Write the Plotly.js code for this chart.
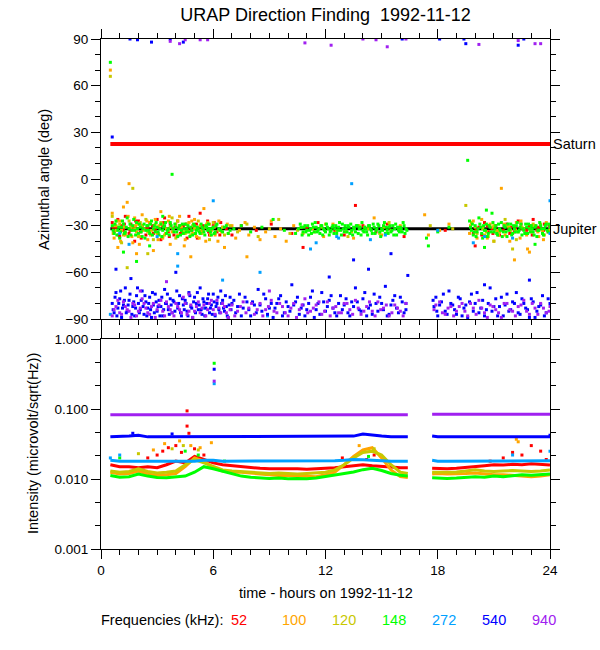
<!DOCTYPE html>
<html>
<head>
<meta charset="utf-8">
<script src="https://cdn.plot.ly/plotly-3.0.1.min.js"></script>
<style>html,body{margin:0;padding:0;background:#fff;}#chart{width:600px;height:650px;}</style>
</head>
<body>
<div id="chart"></div>
<script>
// ---------------- DATA ----------------
const chartTitle = 'URAP Direction Finding\u00a0 1992-11-12';
const xTickVals = [0, 6, 12, 18, 24];
const xTickText = ['0', '6', '12', '18', '24'];
const angleTickVals = [-90, -60, -30, 0, 30, 60, 90];
const intTickVals = [0.001, 0.01, 0.1, 1];
const intTickText = ['0.001', '0.010', '0.100', '1.000'];
const intMinorVals = [0.00215, 0.00464, 0.0215, 0.0464, 0.215, 0.464];
const freqLabels = ['52', '100', '120', '148', '272', '540', '940'];

// planets: [time, angle]
const saturn = [[0.5, 22.5], [24, 22.5]];
const jupiter = [[0.5, -32], [24, -32]];

// azimuth points [hour, deg]
const az52 = [[0.6,-28],[0.7,-34],[0.8,-31],[0.9,-26],[1.0,-37],[1.1,-30],[1.2,-33],[1.3,-24],[1.5,-35],[1.6,-29],[1.7,-32],[1.8,-40],[2.0,-27],[2.1,-34],[2.2,-30],[2.4,-36],[2.5,-31],[2.6,-28],[2.8,-35],[2.9,-33],[3.0,-26],[3.2,-39],[3.3,-30],[3.4,-25],[3.6,-34],[3.7,-29],[3.9,-36],[4.0,-31],[4.1,-27],[4.3,-33],[4.4,-30],[4.6,-38],[4.7,-24],[4.8,-32],[5.0,-35],[5.1,-29],[5.3,-22],[5.4,-33],[5.5,-31],[5.7,-27],[5.8,-36],[6.0,-30],[6.2,-34],[6.4,-28],[6.7,-32],[7.0,-36],[7.5,-30],[8.3,-33],[9.1,-29],[10.2,-35],[11.0,-31],[11.6,-28],[12.5,-33],[13.0,-36],[13.6,-17],[14.0,-30],[14.7,-34],[15.3,-29],[15.9,-32],[16.2,-37],[18.4,-33],[19.9,-35],[20.2,-31],[20.5,-28],[20.7,-34],[20.9,-32],[21.1,-30],[21.3,-36],[21.5,-33],[21.7,-29],[21.9,-31],[22.1,-34],[22.3,-27],[22.5,-32],[22.7,-35],[22.9,-30],[23.1,-26],[23.3,-33],[23.5,-31],[23.7,-29],[23.9,-34],[20.0,-43],[10.8,-44]];
const az52b = [[0.65,-31],[0.95,-36],[1.25,-29],[1.55,-33],[1.85,-27],[2.15,-38],[2.45,-32],[2.75,-30],[3.05,-35],[3.35,-28],[3.65,-37],[3.95,-31],[4.25,-35],[4.55,-29],[4.85,-33],[5.15,-38],[5.45,-30],[5.75,-34],[6.05,-28],[6.35,-36],[20.05,-33],[20.35,-36],[20.65,-30],[20.95,-35],[21.25,-33],[21.55,-30],[21.85,-35],[22.15,-32],[22.45,-29],[22.75,-33],[23.05,-36],[23.35,-31],[23.65,-33],[23.95,-30]];
const az100 = [[0.5,70],[0.6,-22],[0.7,-38],[0.8,-30],[0.9,-44],[1.0,-27],[1.1,-33],[1.2,-18],[1.3,-36],[1.4,-15],[1.5,-3],[1.6,-31],[1.7,-41],[1.8,-25],[1.9,-34],[2.0,-29],[2.1,-37],[2.2,-23],[2.3,-32],[2.5,-39],[2.6,-28],[2.7,-33],[2.8,-46],[2.9,-26],[3.0,-35],[3.1,-30],[3.2,-21],[3.3,-38],[3.5,-32],[3.6,-27],[3.7,-42],[3.8,-34],[4.0,-29],[4.1,-36],[4.2,-24],[4.3,-31],[4.5,-39],[4.6,-33],[4.7,-28],[4.9,-35],[5.0,-26],[5.1,-37],[5.3,-30],[5.4,-34],[5.5,-19],[5.6,-40],[5.8,-29],[5.9,-33],[6.1,-36],[6.3,-27],[6.5,-31],[6.6,-44],[6.8,-35],[7.0,-30],[7.2,-38],[7.4,-33],[7.7,-28],[7.9,-36],[8.2,-31],[8.5,-39],[8.8,-34],[9.1,-27],[9.3,-37],[9.6,-32],[9.9,-40],[10.3,-30],[10.8,-35],[11.3,-32],[11.9,-37],[12.4,-29],[13.1,-34],[13.5,-38],[14.1,-31],[14.6,-25],[15.0,-36],[15.5,-33],[16.0,-30],[17.3,-23],[17.5,-36],[18.1,-33],[18.6,-29],[19.7,-35],[19.9,-27],[20.1,-38],[20.4,-31],[20.6,-34],[20.8,-29],[21.0,-40],[21.2,-33],[21.4,-6],[21.6,-36],[21.8,-31],[22.0,-35],[22.2,-28],[22.4,-38],[22.6,-32],[22.8,-45],[23.0,-34],[23.2,-30],[23.4,-37],[23.6,-33],[23.8,-28],[22.1,-52],[22.9,-47],[7.8,-50],[4.8,-50],[1.9,-48]];
const az100b = [[0.65,-35],[0.85,-27],[1.05,-40],[1.25,-31],[1.45,-24],[1.65,-37],[1.85,-30],[2.05,-42],[2.25,-33],[2.45,-27],[2.65,-36],[2.85,-31],[3.05,-39],[3.25,-29],[3.45,-35],[3.65,-24],[3.85,-32],[4.05,-37],[4.25,-30],[4.45,-43],[4.65,-34],[4.85,-27],[5.05,-31],[5.25,-38],[5.45,-33],[5.65,-29],[5.85,-36],[6.05,-31],[6.25,-40],[6.45,-34],[6.75,-29],[19.75,-30],[20.05,-34],[20.35,-26],[20.65,-38],[20.95,-31],[21.25,-36],[21.55,-29],[21.85,-40],[22.15,-33],[22.45,-27],[22.75,-36],[23.05,-30],[23.35,-34],[23.65,-39],[23.95,-33]];
const az120 = [[0.5,66],[0.6,-24],[0.8,-33],[1.0,-29],[1.1,-41],[1.3,-35],[1.5,-27],[1.7,-6],[1.8,-32],[2.0,-37],[2.2,-30],[2.4,-26],[2.6,-34],[2.8,-39],[3.0,-31],[3.2,-28],[3.4,-36],[3.6,-33],[3.8,-25],[4.0,-38],[4.2,-30],[4.4,-34],[4.6,-29],[4.8,-36],[5.0,-32],[5.2,-27],[5.4,-35],[5.6,-31],[5.8,-39],[6.0,-28],[6.3,-33],[6.6,-36],[6.9,-30],[7.3,-34],[7.8,-29],[8.4,-37],[9.0,-32],[9.5,-26],[10.1,-35],[10.7,-31],[11.4,-34],[12.0,-29],[12.6,-33],[13.2,-37],[13.8,-30],[14.3,-32],[14.9,-35],[15.4,-28],[16.0,-33],[17.6,-30],[18.8,-32],[19.5,-17],[19.8,-28],[20.1,-35],[20.4,-32],[20.7,-37],[21.0,-30],[21.3,-34],[21.6,-26],[21.9,-33],[22.2,-39],[22.5,-31],[22.8,-35],[23.1,-29],[23.4,-33],[23.7,-36],[24.0,-31],[21.0,-40],[22.0,-45],[2.5,-48],[1.4,-57]];
const az120b = [[0.7,-30],[1.2,-36],[1.6,-31],[2.1,-28],[2.5,-34],[2.9,-29],[3.3,-37],[3.7,-31],[4.1,-27],[4.5,-35],[4.9,-30],[5.3,-33],[5.7,-28],[6.1,-35],[6.5,-31],[10.5,-33],[11.8,-31],[13.4,-34],[15.1,-31],[20.0,-31],[20.5,-36],[21.1,-33],[21.7,-30],[22.3,-34],[22.9,-32],[23.5,-29]];
const az148 = [[0.5,75],[0.6,-30],[0.7,-35],[0.8,-27],[0.9,-33],[1.0,-38],[1.1,-31],[1.2,-29],[1.3,-34],[1.4,-25],[1.5,-32],[1.6,-36],[1.7,-30],[1.8,-33],[1.9,-28],[2.0,-35],[2.1,-31],[2.2,-37],[2.3,-29],[2.4,-33],[2.5,-30],[2.6,-35],[2.7,-27],[2.8,-32],[2.9,-34],[3.0,-31],[3.1,-36],[3.2,-29],[3.3,-33],[3.4,-30],[3.5,-35],[3.6,-32],[3.7,-28],[3.8,3],[3.9,-34],[4.0,-31],[4.1,-37],[4.2,-30],[4.3,-33],[4.4,-35],[4.5,-29],[4.6,-32],[4.7,-34],[4.8,-31],[4.9,-36],[5.0,-30],[5.1,-33],[5.2,-32],[5.3,-35],[5.4,-31],[5.5,-34],[5.6,-30],[5.7,-33],[5.8,-32],[5.9,-36],[6.0,-31],[6.1,-34],[6.2,-29],[6.4,-33],[6.6,-31],[6.8,-35],[7.1,-32],[7.5,-30],[8.0,-34],[8.6,-31],[9.2,-26],[9.8,-33],[10.4,-35],[10.7,-31],[10.8,-34],[10.9,-30],[11.0,-33],[11.1,-36],[11.2,-32],[11.3,-29],[11.4,-34],[11.5,-31],[11.6,-33],[11.7,-35],[11.8,-30],[11.9,-32],[12.0,-34],[12.1,-31],[12.2,-36],[12.3,-33],[12.4,-30],[12.5,-32],[12.6,-35],[12.7,-31],[12.8,-33],[12.9,-29],[13.0,-34],[13.1,-32],[13.2,-30],[13.3,-35],[13.4,-33],[13.5,-31],[13.6,-34],[13.7,-30],[13.8,-32],[13.9,-36],[14.0,-33],[14.1,-31],[14.2,-34],[14.3,-30],[14.4,-32],[14.5,-35],[14.6,-31],[14.7,-33],[14.8,-29],[14.9,-34],[15.0,-32],[15.1,-30],[15.2,-35],[15.3,-33],[15.4,-31],[15.5,-34],[15.6,-30],[15.7,-32],[15.8,-36],[15.9,-33],[16.0,-31],[16.1,-34],[16.2,-30],[16.3,-32],[17.4,-38],[17.5,-43],[18.0,-34],[18.6,-31],[19.6,12],[19.7,-27],[19.8,-33],[19.9,-36],[20.0,-30],[20.1,-34],[20.2,-25],[20.3,-31],[20.4,-38],[20.5,-33],[20.6,-29],[20.7,-35],[20.8,-31],[20.9,-22],[21.0,-34],[21.1,-30],[21.2,-36],[21.3,-32],[21.4,-28],[21.5,-34],[21.6,-31],[21.7,-37],[21.8,-33],[21.9,-29],[22.0,-35],[22.1,-32],[22.2,-30],[22.3,-34],[22.4,-31],[22.5,-36],[22.6,-33],[22.7,-29],[22.8,-35],[22.9,-32],[23.0,-30],[23.1,-34],[23.2,-31],[23.3,-37],[23.4,-33],[23.5,-30],[23.6,-35],[23.7,-32],[23.8,-29],[23.9,-34],[24.0,-31],[20.5,-44],[20.6,-20],[23.2,-42],[1.2,-47],[1.9,-53],[2.6,-43],[3.3,-24]];
const az148b = [[10.55,-32],[10.65,-29],[10.75,-36],[10.85,-31],[10.95,-34],[11.05,-30],[11.15,-33],[11.25,-35],[11.35,-31],[11.45,-28],[11.55,-34],[11.65,-32],[11.75,-30],[11.85,-36],[11.95,-33],[12.05,-29],[12.15,-32],[12.25,-34],[12.35,-31],[12.45,-35],[12.55,-30],[12.65,-33],[12.75,-28],[12.85,-36],[12.95,-32],[13.05,-30],[13.15,-34],[13.25,-31],[13.35,-29],[13.45,-36],[13.55,-32],[13.65,-30],[13.75,-35],[13.85,-31],[13.95,-28],[14.05,-34],[14.15,-32],[14.25,-36],[14.35,-30],[14.45,-33],[14.55,-29],[14.65,-35],[14.75,-32],[14.85,-30],[14.95,-37],[15.05,-33],[15.15,-28],[15.25,-31],[15.35,-35],[15.45,-30],[15.55,-33],[15.65,-36],[15.75,-29],[15.85,-31],[15.95,-34],[16.05,-32],[16.15,-28],[16.25,-35],[16.35,-33],
[0.65,-33],[0.75,-29],[0.85,-36],[0.95,-31],[1.05,-34],[1.15,-27],[1.25,-35],[1.35,-31],[1.45,-37],[1.55,-29],[1.65,-33],[1.75,-26],[1.85,-36],[1.95,-32],[2.05,-29],[2.15,-34],[2.25,-32],[2.35,-38],[2.45,-30],[2.55,-33],[2.65,-29],[2.75,-36],[2.85,-30],[2.95,-28],[3.05,-34],[3.15,-32],[3.25,-37],[3.35,-31],[3.45,-28],[3.55,-33],[3.65,-36],[3.75,-30],[3.85,-32],[3.95,-29],[4.05,-34],[4.15,-32],[4.25,-36],[4.35,-29],[4.45,-32],[4.55,-34],[4.65,-30],[4.75,-37],[4.85,-33],[4.95,-29],[5.05,-35],[5.15,-31],[5.25,-34],[5.35,-29],[5.45,-32],[5.55,-36],[5.65,-31],[5.75,-29],[5.85,-34],[5.95,-32],[6.05,-35],[6.15,-30],[6.3,-32],[6.5,-34],[6.7,-30],[6.9,-33],
[19.75,-31],[19.85,-29],[19.95,-34],[20.05,-37],[20.15,-32],[20.25,-29],[20.35,-35],[20.45,-30],[20.55,-33],[20.65,-37],[20.75,-30],[20.85,-34],[20.95,-28],[21.05,-32],[21.15,-35],[21.25,-29],[21.35,-33],[21.45,-37],[21.55,-30],[21.65,-34],[21.75,-29],[21.85,-32],[21.95,-36],[22.05,-30],[22.15,-34],[22.25,-28],[22.35,-33],[22.45,-29],[22.55,-32],[22.65,-35],[22.75,-31],[22.85,-29],[22.95,-34],[23.05,-32],[23.15,-36],[23.25,-30],[23.35,-33],[23.45,-28],[23.55,-32],[23.65,-36],[23.75,-30],[23.85,-33],[23.95,-29]];
const az272 = [[0.5,-87],[1.0,-35],[1.5,-42],[3.0,-37],[4.1,-48],[4.1,-56],[6.0,-14],[6.5,-65],[8.5,-60],[11.2,-45],[11.5,-41],[12.6,-37],[12.7,-38],[13.4,-3],[14.4,-39],[15.2,-36],[18.0,-33],[19.9,-41],[20.5,-37],[22.0,-38],[24.0,-35],[24.0,-14],[8.9,-88],[5.5,-83]];
const az540 = [[0.6,27],[1.55,90],[1.95,89.5],[2.7,88],[3.7,90],[4.4,88],[16.1,90],[18.1,90],[19.4,90],[19.5,87],[22.3,86],[22.6,90],
[0.6,-80],[0.7,-86],[0.8,-73],[0.9,-83],[1.0,-77],[1.1,-89],[1.2,-81],[1.3,-70],[1.4,-85],[1.5,-78],[1.6,-64],[1.7,-82],[1.8,-88],[1.9,-75],[2.0,-80],[2.1,-84],[2.2,-72],[2.3,-87],[2.4,-79],[2.5,-83],[2.6,-76],[2.7,-89],[2.8,-81],[2.9,-74],[3.0,-85],[3.1,-78],[3.2,-82],[3.3,-88],[3.4,-71],[3.5,-80],[3.6,-84],[3.7,-77],[3.8,-86],[3.9,-79],[4.0,-60],[4.1,-83],[4.2,-75],[4.3,-88],[4.4,-81],[4.5,-78],[4.6,-85],[4.7,-73],[4.8,-82],[4.9,-89],[5.0,-76],[5.1,-80],[5.2,-84],[5.3,-70],[5.4,-87],[5.5,-79],[5.6,-83],[5.7,-77],[5.8,-86],[5.9,-81],[6.0,-74],[6.1,-88],[6.2,-80],[6.3,-84],[6.4,-72],[6.5,-78],[6.6,-85],[6.7,-82],[6.8,-89],[6.9,-76],[7.0,-80],[7.2,-86],[7.4,-74],[7.6,-83],[7.8,-79],[8.0,-88],[8.2,-81],[8.4,-71],[8.6,-85],[8.8,-77],[9.0,-83],[9.2,-89],[9.4,-80],[9.6,-75],[9.8,-86],[10.0,-82],[10.2,-68],[10.4,-79],[10.6,-87],[10.8,-81],[11.0,-84],[11.2,-76],[11.4,-89],[11.6,-80],[11.8,-73],[12.0,-85],[12.2,-78],[12.4,-83],[12.6,-88],[12.8,-75],[13.0,-81],[13.2,-86],[13.4,-79],[13.5,-52],[13.6,-70],[13.8,-84],[14.0,-77],[14.2,-88],[14.3,-58],[14.4,-81],[14.6,-74],[14.8,-85],[15.0,-80],[15.2,-69],[15.4,-87],[15.5,-48],[15.6,-78],[15.8,-83],[16.0,-76],[16.2,-86],[16.3,-80],[17.8,-82],[17.9,-76],[18.0,-88],[18.2,-79],[18.4,-85],[18.6,-72],[18.8,-81],[19.0,-87],[19.2,-77],[19.4,-83],[19.6,-89],[19.8,-74],[20.0,-80],[20.2,-86],[20.4,-78],[20.6,-84],[20.8,-70],[21.0,-82],[21.2,-88],[21.4,-76],[21.6,-81],[21.8,-85],[22.0,-79],[22.2,-73],[22.4,-87],[22.6,-80],[22.8,-84],[23.0,-77],[23.2,-89],[23.4,-82],[23.6,-75],[23.8,-86],[24.0,-80],[22.9,-65],[20.5,-68],[16.4,-62],[12.2,-63],[0.8,-58]];
const az540b = [[0.65,-84],[0.75,-76],[0.85,-88],[0.95,-80],[1.05,-72],[1.15,-83],[1.25,-78],[1.35,-86],[1.45,-81],[1.55,-74],[1.65,-87],[1.75,-79],[1.85,-83],[1.95,-70],[2.05,-86],[2.15,-78],[2.25,-82],[2.35,-75],[2.45,-88],[2.55,-80],[2.65,-84],[2.75,-73],[2.85,-86],[2.95,-79],[3.05,-82],[3.15,-88],[3.25,-76],[3.35,-84],[3.45,-80],[3.55,-74],[3.65,-87],[3.75,-81],[3.85,-78],[3.95,-85],[4.05,-72],[4.15,-80],[4.25,-86],[4.35,-77],[4.45,-84],[4.55,-80],[4.65,-88],[4.75,-75],[4.85,-83],[4.95,-79],[5.05,-86],[5.15,-73],[5.25,-81],[5.35,-84],[5.45,-77],[5.55,-88],[5.65,-80],[5.75,-74],[5.85,-83],[5.95,-87],[6.05,-79],[6.15,-82],[6.25,-76],[6.35,-86],[6.45,-80],[6.55,-83],[6.65,-75],[6.75,-88],[6.85,-81],[6.95,-84],[7.1,-78],[7.3,-82],[7.5,-88],[7.7,-76],[7.9,-84],[8.1,-79],[8.3,-86],[8.5,-81],[8.7,-74],[8.9,-87],[9.1,-80],[9.3,-83],[9.5,-77],[9.7,-88],[9.9,-79],[10.1,-85],[10.3,-81],[10.5,-76],[10.7,-83],[10.9,-88],[11.1,-80],[11.3,-72],[11.5,-84],[11.7,-87],[11.9,-79],[12.1,-82],[12.3,-75],[12.5,-86],[12.7,-80],[12.9,-84],[13.1,-77],[13.3,-88],[13.5,-82],[13.7,-79],[13.9,-85],[14.1,-73],[14.3,-83],[14.5,-87],[14.7,-80],[14.9,-76],[15.1,-84],[15.3,-88],[15.5,-81],[15.7,-75],[15.9,-86],[16.1,-79],[16.3,-84],[17.75,-78],[17.95,-85],[18.1,-81],[18.3,-74],[18.5,-87],[18.7,-80],[18.9,-84],[19.1,-76],[19.3,-88],[19.5,-81],[19.7,-79],[19.9,-85],[20.1,-73],[20.3,-83],[20.5,-88],[20.7,-80],[20.9,-85],[21.1,-77],[21.3,-82],[21.5,-88],[21.7,-74],[21.9,-84],[22.1,-80],[22.3,-86],[22.5,-77],[22.7,-83],[22.9,-89],[23.1,-79],[23.3,-85],[23.5,-81],[23.7,-88],[23.9,-77]];
const az940 = [[3.7,88.5],[4.2,87],[4.5,89.5],[5.3,89.5],[5.7,89.5],[10.9,87.5],[12.3,86],[14.0,90],[14.7,89.5],[15.3,85],[16.3,90],[20.2,86.5],[22.3,89],[23.2,87],[23.5,87],
[0.6,-88],[0.8,-82],[1.0,-86],[1.2,-79],[1.4,-84],[1.6,-89],[1.8,-81],[2.0,-85],[2.2,-77],[2.4,-83],[2.6,-87],[2.8,-80],[3.0,-84],[3.2,-78],[3.4,-88],[3.6,-82],[3.8,-86],[4.0,-80],[4.2,-84],[4.4,-76],[4.6,-87],[4.8,-81],[5.0,-85],[5.2,-79],[5.4,-83],[5.6,-88],[5.8,-80],[6.0,-84],[6.2,-78],[6.4,-86],[6.6,-82],[6.8,-89],[7.0,-81],[7.3,-85],[7.6,-79],[7.9,-83],[8.2,-87],[8.5,-80],[8.8,-84],[9.1,-78],[9.4,-86],[9.7,-82],[10.0,-88],[10.3,-80],[10.6,-84],[10.9,-77],[11.2,-85],[11.5,-81],[11.8,-87],[12.1,-79],[12.4,-83],[12.7,-86],[13.0,-80],[13.3,-84],[13.6,-78],[13.9,-87],[14.2,-82],[14.5,-85],[14.8,-79],[15.1,-83],[15.4,-88],[15.7,-81],[16.0,-85],[16.3,-80],[17.8,-84],[18.1,-79],[18.4,-87],[18.7,-82],[19.0,-85],[19.3,-80],[19.6,-88],[19.9,-83],[20.2,-78],[20.5,-86],[20.8,-81],[21.1,-84],[21.4,-89],[21.7,-80],[22.0,-85],[22.3,-82],[22.6,-78],[22.9,-87],[23.2,-83],[23.5,-80],[23.8,-86],[24.0,-82],[2.1,-72],[4.7,-74],[9.0,-72],[3.5,-66]];
const az940b = [[0.7,-84],[0.9,-78],[1.1,-87],[1.3,-82],[1.5,-85],[1.7,-80],[1.9,-88],[2.1,-83],[2.3,-80],[2.5,-86],[2.7,-82],[2.9,-89],[3.1,-81],[3.3,-85],[3.5,-79],[3.7,-84],[3.9,-88],[4.1,-82],[4.3,-86],[4.5,-80],[4.7,-85],[4.9,-89],[5.1,-82],[5.3,-86],[5.5,-81],[5.7,-84],[5.9,-78],[6.1,-87],[6.3,-83],[6.5,-80],[6.7,-86],[6.9,-84],[7.15,-88],[7.45,-82],[7.75,-86],[8.05,-80],[8.35,-84],[8.65,-88],[8.95,-82],[9.25,-85],[9.55,-80],[9.85,-86],[10.15,-83],[10.45,-89],[10.75,-81],[11.05,-86],[11.35,-83],[11.65,-79],[11.95,-85],[12.25,-88],[12.55,-82],[12.85,-86],[13.15,-80],[13.45,-87],[13.75,-83],[14.05,-85],[14.35,-79],[14.65,-88],[14.95,-84],[15.25,-81],[15.55,-86],[15.85,-83],[16.15,-88],[17.9,-81],[18.25,-86],[18.55,-83],[18.85,-88],[19.15,-82],[19.45,-85],[19.75,-80],[20.05,-87],[20.35,-83],[20.65,-89],[20.95,-82],[21.25,-86],[21.55,-80],[21.85,-84],[22.15,-88],[22.45,-81],[22.75,-85],[23.05,-80],[23.35,-87],[23.65,-83],[23.95,-85]];

// intensity bands (microvolt/sqrt(Hz)); null = data gap
const hours = [0.5,1,1.5,2,2.5,3,3.5,4,4.5,5,5.5,6,6.5,7,7.5,8,8.5,9,9.5,10,10.5,11,11.5,12,12.5,13,13.5,14,14.5,15,15.5,16,16.4,17,17.7,18,18.5,19,19.5,20,20.5,21,21.5,22,22.5,23,23.5,24];
const int52  = [0.016,0.015,0.015,0.0145,0.015,0.0145,0.016,0.018,0.017,0.021,0.019,0.017,0.016,0.0155,0.015,0.0145,0.0142,0.014,0.014,0.0142,0.014,0.0138,0.014,0.0142,0.0145,0.015,0.0155,0.016,0.0155,0.015,0.0148,0.0145,0.0145,null,0.0143,0.0142,0.014,0.0142,0.0145,0.015,0.0155,0.016,0.0158,0.0162,0.016,0.0165,0.016,0.0158];
const int100 = [0.0125,0.0118,0.012,0.013,0.0118,0.0112,0.0115,0.012,0.015,0.02,0.018,0.0145,0.013,0.0125,0.0125,0.012,0.0118,0.0115,0.0112,0.0112,0.011,0.0108,0.0108,0.0115,0.0125,0.016,0.021,0.026,0.028,0.02,0.0135,0.0108,0.0105,null,0.0118,0.012,0.0118,0.0118,0.012,0.0122,0.0118,0.0115,0.0115,0.0112,0.011,0.0108,0.011,0.0115];
const int120 = [0.013,0.0125,0.0128,0.014,0.0128,0.0122,0.0125,0.013,0.016,0.019,0.017,0.015,0.0135,0.013,0.0128,0.0125,0.0122,0.012,0.0122,0.012,0.0118,0.012,0.0122,0.0125,0.0135,0.016,0.02,0.024,0.025,0.022,0.016,0.0125,0.012,null,0.0125,0.0125,0.0125,0.0126,0.013,0.0135,0.013,0.0128,0.013,0.0132,0.013,0.0128,0.013,0.0135];
const int148 = [0.0112,0.0106,0.0108,0.0118,0.011,0.0105,0.0104,0.0106,0.011,0.0125,0.015,0.014,0.013,0.0118,0.011,0.0106,0.0104,0.0102,0.0103,0.0101,0.0102,0.0101,0.0103,0.0108,0.0115,0.012,0.0126,0.0136,0.0142,0.0132,0.012,0.0113,0.011,null,0.0104,0.0103,0.0102,0.0103,0.0105,0.0108,0.0106,0.011,0.0108,0.0112,0.0115,0.0113,0.0116,0.0118];
const int272 = [0.0185,0.018,0.018,0.018,0.018,0.018,0.018,0.018,0.018,0.018,0.0185,0.0185,0.018,0.018,0.018,0.018,0.018,0.018,0.018,0.018,0.018,0.018,0.018,0.018,0.0182,0.0185,0.019,0.0188,0.0185,0.018,0.018,0.018,0.018,null,0.0185,0.018,0.018,0.018,0.018,0.018,0.018,0.018,0.018,0.018,0.018,0.018,0.018,0.0182];
const int540 = [0.040,0.040,0.041,0.042,0.040,0.040,0.040,0.041,0.040,0.041,0.040,0.040,0.040,0.040,0.040,0.040,0.040,0.040,0.040,0.040,0.040,0.040,0.040,0.040,0.040,0.040,0.041,0.044,0.042,0.041,0.040,0.040,0.040,null,0.041,0.040,0.040,0.040,0.040,0.040,0.040,0.040,0.040,0.040,0.040,0.040,0.040,0.040];
const int940 = [0.083,0.083,0.083,0.083,0.083,0.083,0.083,0.083,0.083,0.083,0.083,0.083,0.083,0.083,0.083,0.083,0.083,0.083,0.083,0.083,0.083,0.083,0.083,0.083,0.083,0.083,0.083,0.083,0.083,0.083,0.083,0.083,0.083,null,0.084,0.084,0.084,0.084,0.084,0.084,0.084,0.084,0.084,0.084,0.084,0.084,0.084,0.084];
// scattered intensity points [hour, value]
const sp52  = [[4.6,0.094],[4.6,0.057],[4.7,0.045],[3.0,0.022],[3.3,0.025],[3.6,0.028],[4.0,0.030],[4.3,0.024],[5.0,0.027],[5.5,0.022],[2.5,0.020],[21.5,0.020],[22.0,0.024],[22.5,0.022],[23.0,0.030],[23.5,0.025],[23.8,0.019],[20.8,0.018],[14.6,0.022],[14.2,0.019],[12.9,0.020]];
const sp100 = [[2.8,0.026],[3.4,0.032],[4.2,0.035],[4.8,0.030],[5.3,0.028],[5.9,0.033],[13.8,0.030],[22.2,0.037],[22.3,0.034]];
const sp120 = [[2.0,0.023],[3.8,0.027],[4.4,0.030],[5.2,0.026],[14.6,0.027]];
const sp148 = [[1.0,0.020],[4.5,0.025],[5.2,0.022],[6.05,0.45],[14.3,0.021],[6.6,0.018]];
const sp272 = [[0.5,0.020],[1.0,0.022],[6.05,0.23],[22.0,0.022],[24.0,0.025]];
const sp540 = [[6.05,0.37],[1.7,0.045],[3.8,0.044],[24.0,0.042]];
const sp940 = [[6.05,0.25]];

// ---------------- STYLE ----------------
const colors = ['#ff0000', '#ffa500', '#c8c800', '#00ff00', '#00a0ff', '#0000ff', '#a020f0'];
const FONT = 'Liberation Sans, Arial, Helvetica, sans-serif';
const TXT = 14.5, TICK = 13.5;
const W = 600, H = 650, L = 101, R = 50, T = 39, B = 101;
const plotW = W - L - R, plotH = H - T - B;
const px2x = px => (px - L) / plotW;
const py2y = py => (H - B - py) / plotH;

const azSets = [az52.concat(az52b), az100.concat(az100b), az120.concat(az120b), az148.concat(az148b), az272, az540.concat(az540b), az940.concat(az940b)];
const intSets = [int52, int100, int120, int148, int272, int540, int940];
const spSets = [sp52, sp100, sp120, sp148, sp272, sp540, sp940];

const traces = [];
traces.push({x: saturn.map(p => p[0]), y: saturn.map(p => p[1]), mode: 'lines', line: {color: '#ff0000', width: 4}, xaxis: 'x', yaxis: 'y', hoverinfo: 'skip'});
traces.push({x: jupiter.map(p => p[0]), y: jupiter.map(p => p[1]), mode: 'lines', line: {color: '#000000', width: 3}, xaxis: 'x', yaxis: 'y', hoverinfo: 'skip'});
azSets.forEach((pts, i) => {
  traces.push({x: pts.map(p => p[0]), y: pts.map(p => p[1]), mode: 'markers', type: 'scatter',
    marker: {symbol: 'square', size: 3, color: colors[i], line: {width: 0}}, xaxis: 'x', yaxis: 'y', hoverinfo: 'skip'});
});
intSets.forEach((vals, i) => {
  traces.push({x: hours, y: vals, mode: 'lines', connectgaps: false, line: {color: colors[i], width: 3}, xaxis: 'x2', yaxis: 'y2', hoverinfo: 'skip'});
  traces.push({x: spSets[i].map(p => p[0]), y: spSets[i].map(p => p[1]), mode: 'markers',
    marker: {symbol: 'square', size: 3, color: colors[i], line: {width: 0}}, xaxis: 'x2', yaxis: 'y2', hoverinfo: 'skip'});
});

const axisBase = {
  ticks: 'outside', ticklen: 9, tickwidth: 1, tickcolor: '#000', showline: true, linecolor: '#000', linewidth: 1,
  mirror: 'ticks', showgrid: false, zeroline: false, fixedrange: true,
  tickfont: {family: FONT, size: TICK, color: '#000'}
};
const xBase = Object.assign({}, axisBase, {
  range: [0, 24], tickmode: 'array', tickvals: xTickVals, ticktext: xTickText,
  minor: {tickmode: 'linear', tick0: 0, dtick: 1, ticks: 'outside', ticklen: 5, tickwidth: 1, tickcolor: '#000'}
});

const annotations = [
  {text: 'Azimuthal angle (deg)', textangle: -90, xref: 'paper', yref: 'paper', x: px2x(44), y: py2y(180), xanchor: 'center', yanchor: 'middle', showarrow: false, font: {family: FONT, size: TXT, color: '#000'}},
  {text: 'Intensity (microvolt/sqrt(Hz))', textangle: -90, xref: 'paper', yref: 'paper', x: px2x(33), y: py2y(444), xanchor: 'center', yanchor: 'middle', showarrow: false, font: {family: FONT, size: TXT, color: '#000'}},
  {text: 'Saturn', xref: 'paper', yref: 'y', x: 1, xshift: 1, y: saturn[0][1], xanchor: 'left', yanchor: 'middle', showarrow: false, font: {family: FONT, size: TXT, color: '#000'}},
  {text: 'Jupiter', xref: 'paper', yref: 'y', x: 1, xshift: 1, y: jupiter[0][1], xanchor: 'left', yanchor: 'middle', showarrow: false, font: {family: FONT, size: TXT, color: '#000'}},
  {text: 'time - hours on 1992-11-12', xref: 'paper', yref: 'paper', x: px2x(325.5), y: py2y(593), xanchor: 'center', yanchor: 'middle', showarrow: false, font: {family: FONT, size: TXT, color: '#000'}},
  {text: 'Frequencies (kHz):', xref: 'paper', yref: 'paper', x: px2x(99), y: py2y(620), xanchor: 'left', yanchor: 'middle', showarrow: false, font: {family: FONT, size: TXT, color: '#000'}}
];
const freqCenters = [239, 293.5, 344, 394, 444, 494, 544];
freqLabels.forEach((lab, i) => {
  annotations.push({text: lab, xref: 'paper', yref: 'paper', x: px2x(freqCenters[i]), y: py2y(620), xanchor: 'center', yanchor: 'middle', showarrow: false, font: {family: FONT, size: TXT, color: colors[i]}});
});

const layout = {
  width: W, height: H, margin: {l: L, r: R, t: T, b: B, pad: 0},
  paper_bgcolor: '#fff', plot_bgcolor: '#fff', showlegend: false,
  font: {family: FONT, size: TXT, color: '#000'},
  title: {text: chartTitle, font: {family: FONT, size: 18, color: '#000'}, xref: 'paper', x: 0.5, xanchor: 'center', yref: 'container', y: 1 - 15 / H, yanchor: 'middle'},
  xaxis: Object.assign({}, xBase, {anchor: 'y', showticklabels: false}),
  yaxis: Object.assign({}, axisBase, {
    anchor: 'x', domain: [py2y(319), 1], range: [-90, 90], tickmode: 'array', tickvals: angleTickVals,
    minor: {tickmode: 'linear', tick0: 0, dtick: 10, ticks: 'outside', ticklen: 5, tickwidth: 1, tickcolor: '#000'}
  }),
  xaxis2: Object.assign({}, xBase, {anchor: 'y2', showticklabels: true}),
  yaxis2: Object.assign({}, axisBase, {
    anchor: 'x2', domain: [0, py2y(339)], type: 'log', range: [-3, 0], tickmode: 'array', tickvals: intTickVals, ticktext: intTickText,
    minor: {tickmode: 'array', tickvals: intMinorVals, ticks: 'outside', ticklen: 5, tickwidth: 1, tickcolor: '#000'}
  }),
  annotations: annotations
};

Plotly.newPlot('chart', traces, layout, {staticPlot: true, displayModeBar: false});
</script>
</body>
</html>
